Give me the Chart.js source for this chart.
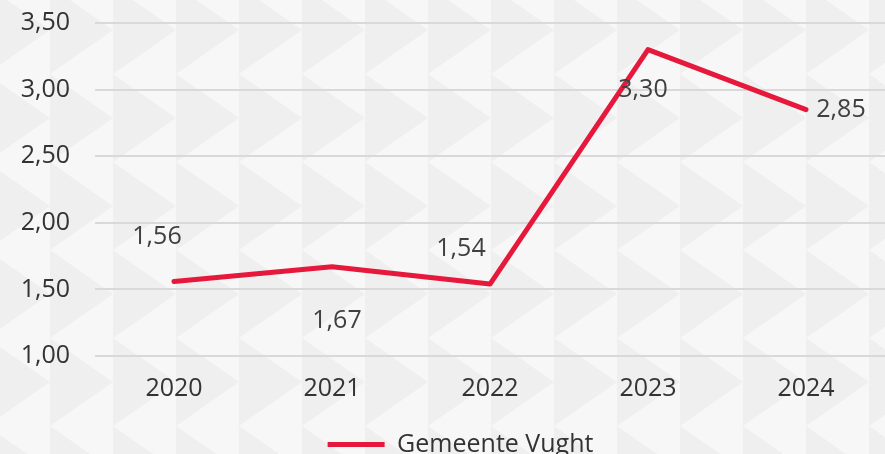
<!DOCTYPE html>
<html>
<head>
<meta charset="utf-8">
<script src="https://cdn.jsdelivr.net/npm/chart.js@4.4.1/dist/chart.umd.min.js"></script>
<style>
  html, body { margin: 0; padding: 0; }
  body {
    width: 885px; height: 454px; overflow: hidden;
    background-color: #f7f7f7;
    background-image: url("data:image/svg+xml;utf8,<svg xmlns='http://www.w3.org/2000/svg' width='63' height='88'><polygon points='0,0 63,44 0,88' fill='%23efefef'/></svg>");
    background-size: 63px 88px;
    background-position: -13px -14px;
  }
  #wrap { position: relative; width: 885px; height: 454px; }
</style>
</head>
<body>
<div id="wrap"><canvas id="c" width="885" height="454"></canvas></div>
<script>
const categories = ["2020", "2021", "2022", "2023", "2024"];
const seriesName = "Gemeente Vught";
const seriesValues = [1.56, 1.67, 1.54, 3.30, 2.85];
const yTicks = [1.00, 1.50, 2.00, 2.50, 3.00, 3.50];

const fmt = v => v.toFixed(2).replace('.', ',');
const FONT = "'Open Sans', sans-serif";
const FSIZE = 25;

const labelPlugin = {
  id: 'pointLabels',
  afterLayout(chart) {
    const lg = chart.legend;
    if (lg) { lg.left += 18; lg.right += 18; }
  },
  afterDatasetsDraw(chart, args, opts) {
    const ctx = chart.ctx;
    const meta = chart.getDatasetMeta(0);
    ctx.save();
    ctx.font = FSIZE + "px " + FONT;
    ctx.fillStyle = "#404040";
    ctx.textAlign = "center";
    ctx.textBaseline = "middle";
    meta.data.forEach((pt, i) => {
      const off = opts.offsets[i] || [0, 0];
      ctx.fillText(fmt(chart.data.datasets[0].data[i]), pt.x + off[0], pt.y + off[1]);
    });
    ctx.restore();
  }
};

new Chart(document.getElementById('c'), {
  type: 'line',
  data: {
    labels: categories,
    datasets: [{
      label: seriesName,
      data: seriesValues,
      borderColor: '#e6193c',
      backgroundColor: '#e6193c',
      borderWidth: 5,
      borderCapStyle: 'round',
      borderJoinStyle: 'round',
      pointRadius: 0,
      tension: 0
    }]
  },
  options: {
    responsive: false,
    animation: false,
    layout: { padding: { left: 0, right: 0, top: 23, bottom: -13 } },
    scales: {
      x: {
        offset: true,
        afterFit(scale) { scale.height = 76; },
        grid: { display: false, drawTicks: false },
        border: { display: false },
        ticks: { color: '#333', font: { family: FONT, size: FSIZE }, padding: 18 }
      },
      y: {
        min: 1, max: 3.5,
        afterFit(scale) { scale.width = 95; scale.paddingTop = 0; scale.paddingBottom = 0; },
        afterBuildTicks(scale) { scale.ticks = yTicks.map(v => ({ value: v })); },
        grid: { color: '#d9d9d9', lineWidth: 2, drawTicks: false },
        border: { display: false },
        ticks: { color: '#333', font: { family: FONT, size: FSIZE }, padding: 25, callback: v => fmt(v) }
      }
    },
    plugins: {
      legend: {
        position: 'bottom',
        labels: {
          color: '#333',
          font: { family: FONT, size: FSIZE },
          usePointStyle: true,
          pointStyleWidth: 57,
          pointStyle: 'line',
          padding: 0
        }
      },
      tooltip: { enabled: false },
      pointLabels: { offsets: [[-17, -45], [5, 54], [-29, -35], [-5, 40], [35, 0]] }
    }
  },
  plugins: [labelPlugin]
});
</script>
</body>
</html>
